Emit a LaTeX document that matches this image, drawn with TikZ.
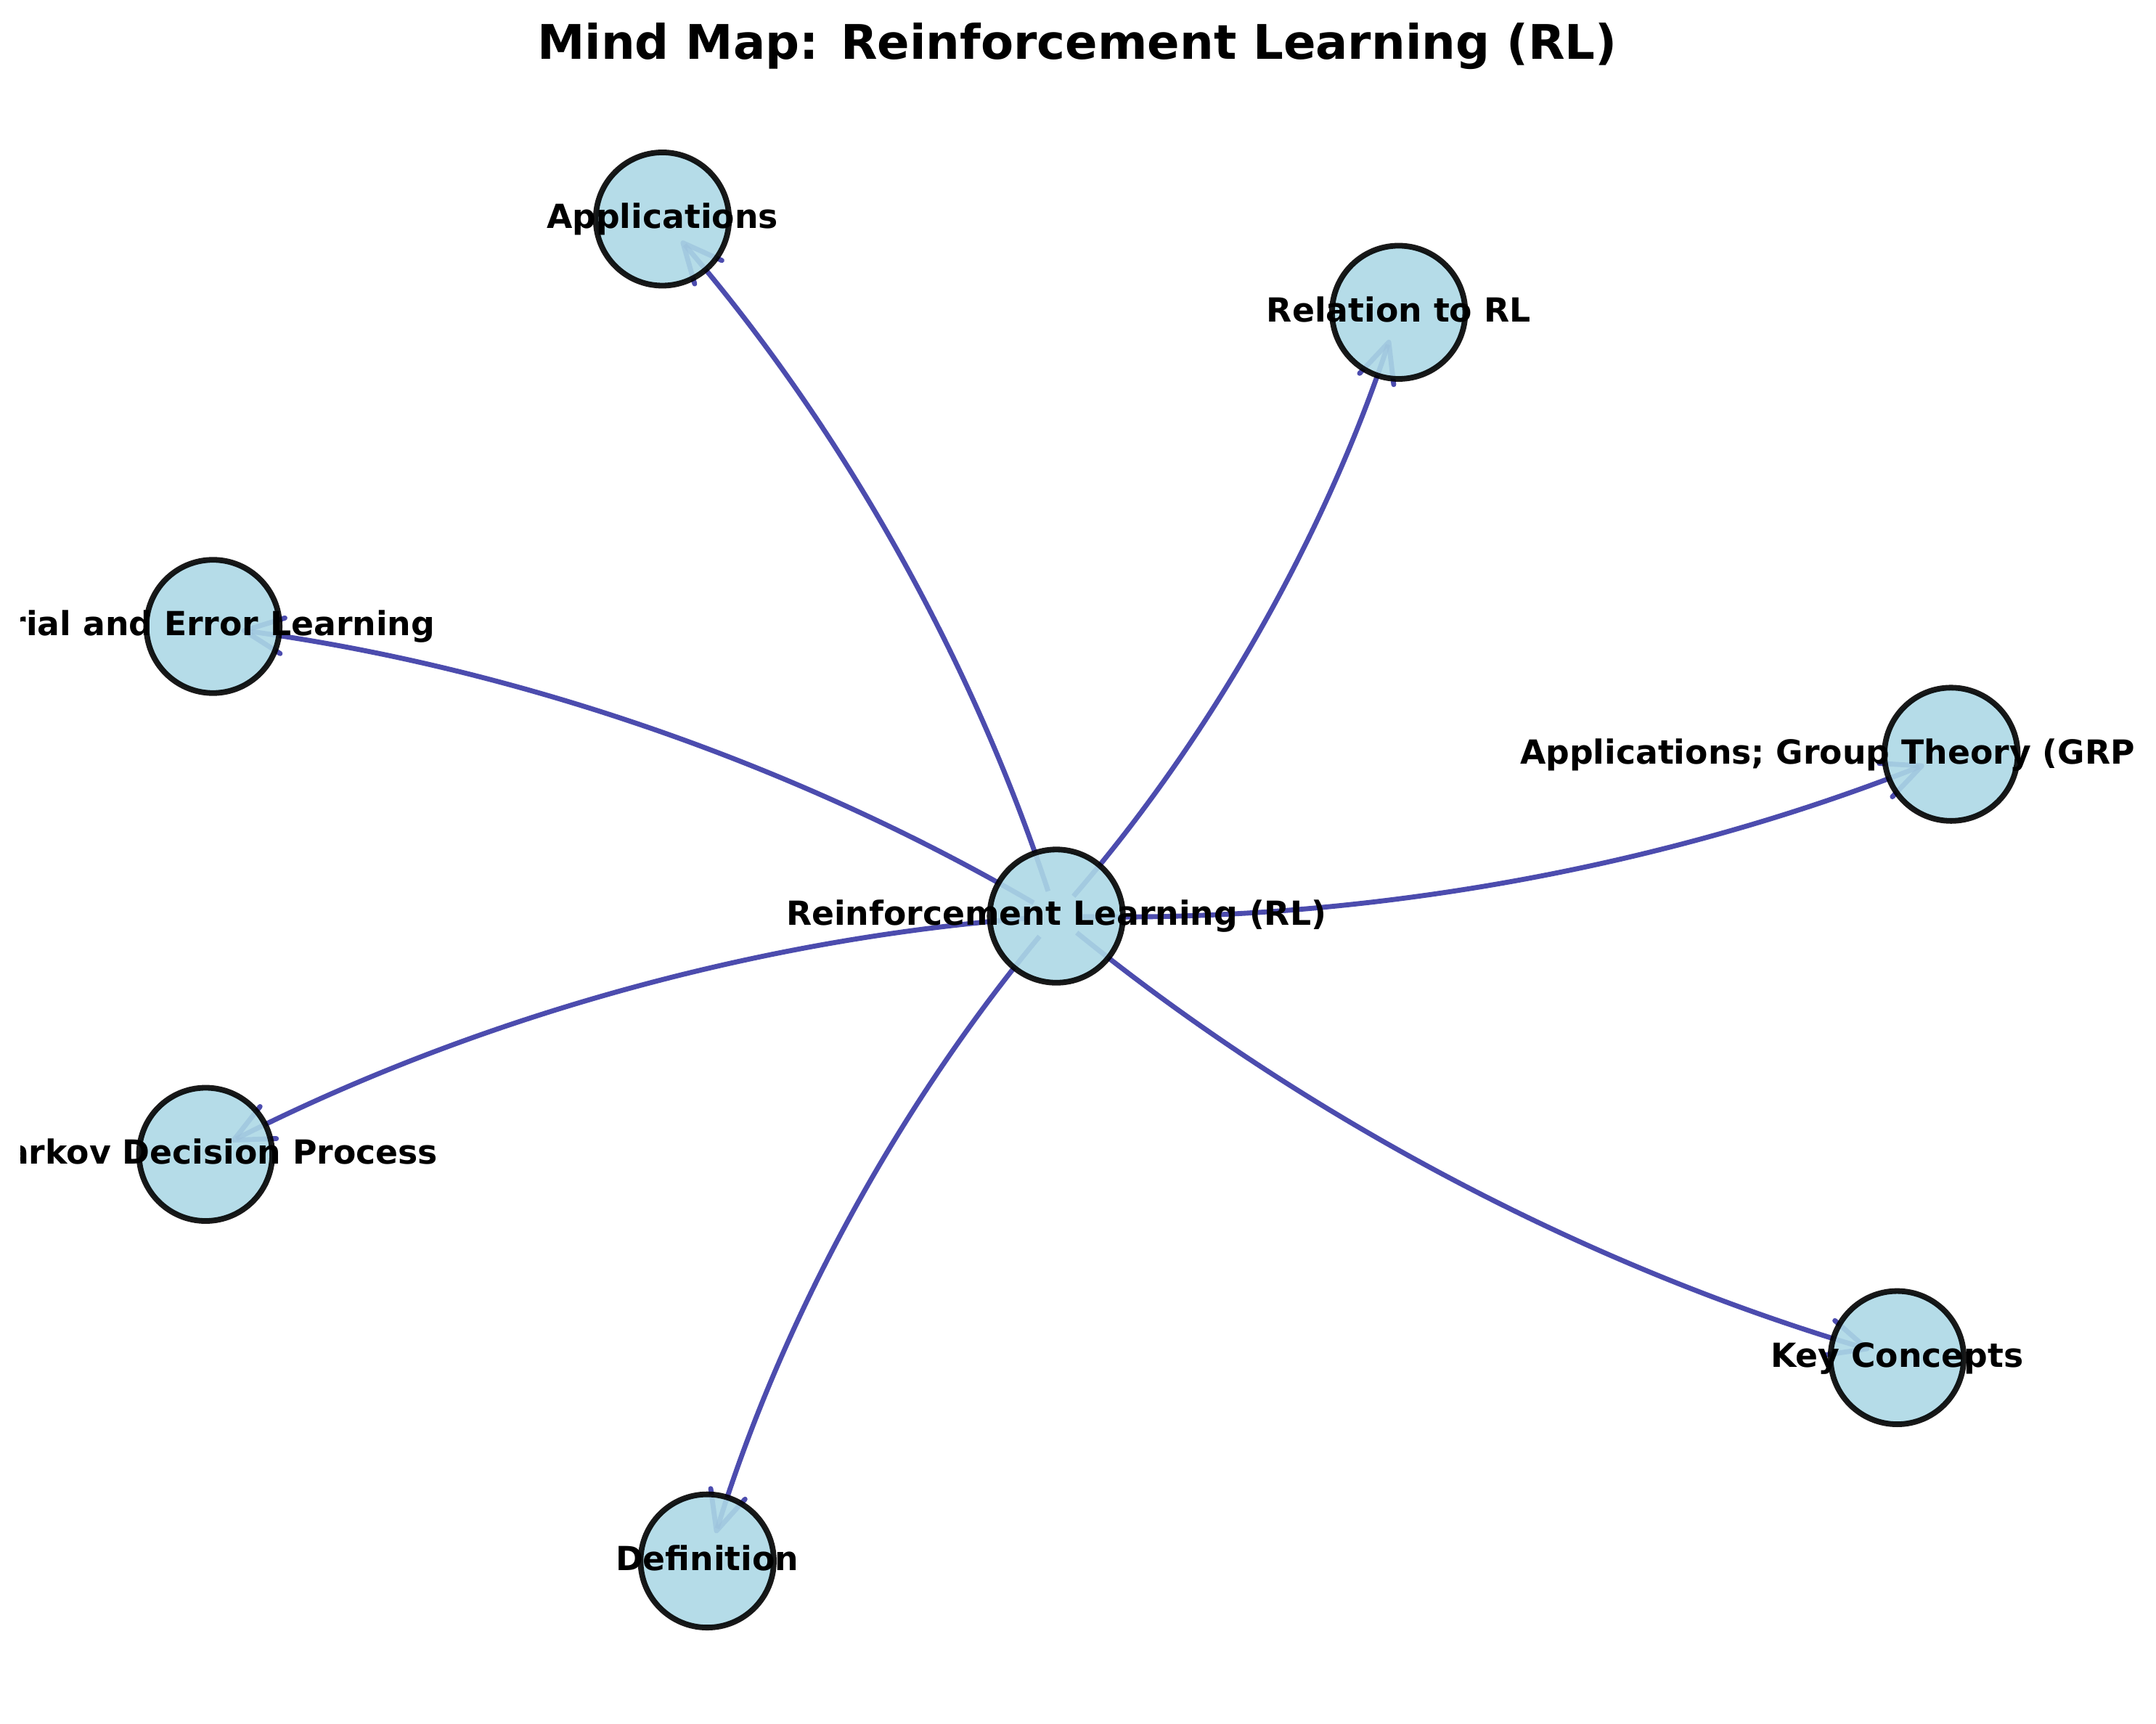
\documentclass[tikz,border=0pt]{standalone}
\usepackage{fontspec}
\setmainfont{DejaVu Sans}
\usetikzlibrary{arrows.meta,backgrounds}

\definecolor{lightblue}{RGB}{173,216,230}
\definecolor{darkblue}{RGB}{0,0,139}

\tikzset{
    concept/.style={circle, draw=black, draw opacity=0.9, fill=lightblue, fill opacity=0.9,
        line width=4.1pt, minimum size=96.4pt, inner sep=0pt},
    concept text/.style={font=\fontsize{24}{28}\selectfont\bfseries, text height=18pt,
        text depth=4.4pt, inner sep=0pt},
    link/.style={draw=darkblue, draw opacity=0.7, line width=3.6pt,
        -{Straight Barb[length=28pt, width=26pt, round]},
        shorten <=19pt, shorten >=21pt, bend right=11.3, looseness=0.87}
}

\begin{document}
\begin{tikzpicture}[x=1pt, y=1pt]
    \useasboundingbox (0,0) rectangle (1560,1247);

    \node [font=\fontsize{34.5}{41}\selectfont\bfseries, anchor=base] (title) at (779.5,1204.1)
        {Mind Map: Reinforcement Learning (RL)};

    \node [concept] (rl) at (764.3,584.1) {};
    \node [concept] (app) at (479.3,1088.5) {};
    \node [concept] (rel) at (1012.0,1021.0) {};
    \node [concept] (trial) at (154.1,793.7) {};
    \node [concept] (grp) at (1411.7,701.2) {};
    \node [concept] (mdp) at (148.8,411.7) {};
    \node [concept] (defn) at (511.7,117.5) {};
    \node [concept] (key) at (1372.7,264.6) {};

    \begin{scope}
        \clip (15,0) rectangle (1545,1247);
        \node [concept text] (rl text) at (rl) {Reinforcement Learning (RL)};
        \node [concept text] (app text) at (app) {Applications};
        \node [concept text] (rel text) at (rel) {Relation to RL};
        \node [concept text] (trial text) at (trial) {Trial and Error Learning};
        \node [concept text, anchor=west] (grp text) at ([xshift=-312pt]grp.center)
            {Applications; Group Theory (GRP};
        \node [concept text] (mdp text) at (mdp) {Markov Decision Process};
        \node [concept text] (defn text) at (defn) {Definition};
        \node [concept text] (key text) at (key) {Key Concepts};
    \end{scope}

    \begin{scope}[on background layer]
        \draw [link] (rl.center) to (app.center);
        \draw [link] (rl.center) to (rel.center);
        \draw [link] (rl.center) to (trial.center);
        \draw [link] (rl.center) to (grp.center);
        \draw [link] (rl.center) to (mdp.center);
        \draw [link] (rl.center) to (defn.center);
        \draw [link] (rl.center) to (key.center);
    \end{scope}
\end{tikzpicture}
\end{document}
